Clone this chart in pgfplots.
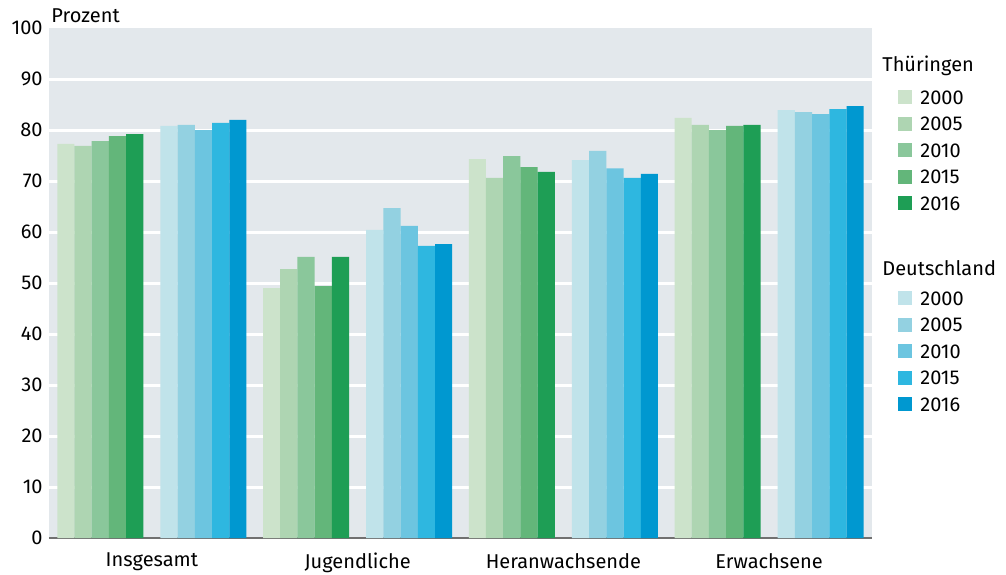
\documentclass[border=0pt]{standalone}
\usepackage{fontspec}
\setmainfont{Fira Sans}
\usepackage{pgfplots}
\pgfplotsset{compat=1.18}

\definecolor{bg}{HTML}{E3E8EC}
\definecolor{axgray}{HTML}{707070}
\definecolor{tA}{HTML}{CCE3CB}
\definecolor{tB}{HTML}{AED5B2}
\definecolor{tC}{HTML}{8AC79B}
\definecolor{tD}{HTML}{63B67A}
\definecolor{tE}{HTML}{1E9E55}
\definecolor{dA}{HTML}{C0E3EA}
\definecolor{dB}{HTML}{93D1E1}
\definecolor{dC}{HTML}{6CC5E0}
\definecolor{dD}{HTML}{2EB7E0}
\definecolor{dE}{HTML}{0098D0}

\newcommand{\ttl}[2]{\hspace*{-19pt}\raisebox{#1}[0pt][0pt]{#2}}

\pgfplotsset{
  base/.style={
    scale only axis,
    width=411.5pt, height=255pt,
    font=\fontsize{10}{12}\selectfont,
    xmin=-0.5, xmax=3.5,
    ymin=0, ymax=100,
    legend style={anchor=north west, draw=none, fill=none,
      inner sep=0pt, row sep=6.25pt, column sep=0pt,
      nodes={inner xsep=4pt, inner ysep=0pt, text height=7pt, text depth=0pt},
      font=\fontsize{10}{12}\selectfont},
    legend cell align=left,
    legend image code/.code={\fill[##1] (0pt,-3.5pt) rectangle (7pt,3.5pt);},
  },
  bars/.style={ybar, bar width=0.0836, bar shift=#1, draw=none},
}

\begin{document}
\begin{tikzpicture}
% groups: Insgesamt, Jugendliche, Heranwachsende, Erwachsene
\begin{axis}[
  base,
  clip=false,
  xtick={0,1,2,3},
  xticklabels={Insgesamt, Jugendliche, Heranwachsende, Erwachsene},
  ytick={0,10,...,100},
  extra y ticks={10,20,...,90},
  extra y tick labels={},
  extra y tick style={grid=major},
  major grid style={white, line width=1.5pt},
  major tick length=0pt,
  tick style={draw=none},
  axis x line=bottom,
  axis y line=left,
  y axis line style={draw=none},
  x axis line style={-, draw=axgray, line width=1pt},
  axis background/.style={fill=bg},
  /pgf/number format/assume math mode=true,
  yticklabel style={inner xsep=3pt},
  xticklabel style={yshift=-4pt},
  legend style={at={(rel axis cs:1,1)}, xshift=13pt, yshift=-17.75pt},
]
\addlegendimage{empty legend}
\addlegendentry{\ttl{3.25pt}{Thüringen}}
\addplot[bars=-0.418, fill=tA]
  coordinates {(0,77.3) (1,49.0) (2,74.3) (3,82.4)};
\addlegendentry{2000}
\addplot[bars=-0.3344, fill=tB]
  coordinates {(0,76.9) (1,52.7) (2,70.6) (3,81.0)};
\addlegendentry{2005}
\addplot[bars=-0.2508, fill=tC]
  coordinates {(0,77.8) (1,55.1) (2,74.9) (3,80.0)};
\addlegendentry{2010}
\addplot[bars=-0.1672, fill=tD]
  coordinates {(0,78.8) (1,49.4) (2,72.7) (3,80.8)};
\addlegendentry{2015}
\addplot[bars=-0.0836, fill=tE]
  coordinates {(0,79.2) (1,55.1) (2,71.8) (3,81.0)};
\addlegendentry{2016}

\node[anchor=base west, inner sep=0pt, xshift=1pt, yshift=3pt] at (rel axis cs:0,1) {Prozent};
\end{axis}

\begin{axis}[
  base,
  hide axis,
  legend style={at={(rel axis cs:1,1)}, xshift=13pt, yshift=-118.25pt},
]
\addlegendimage{empty legend}
\addlegendentry{\ttl{1.75pt}{Deutschland}}
\addplot[bars=0.0836, fill=dA]
  coordinates {(0,80.8) (1,60.4) (2,74.1) (3,83.9)};
\addlegendentry{2000}
\addplot[bars=0.1672, fill=dB]
  coordinates {(0,81.0) (1,64.7) (2,75.9) (3,83.5)};
\addlegendentry{2005}
\addplot[bars=0.2508, fill=dC]
  coordinates {(0,80.0) (1,61.2) (2,72.5) (3,83.1)};
\addlegendentry{2010}
\addplot[bars=0.3344, fill=dD]
  coordinates {(0,81.4) (1,57.3) (2,70.6) (3,84.1)};
\addlegendentry{2015}
\addplot[bars=0.418, fill=dE]
  coordinates {(0,82.0) (1,57.6) (2,71.4) (3,84.7)};
\addlegendentry{2016}
\end{axis}
\pgfresetboundingbox
\path ([shift={(-24.5pt,-18pt)}]current axis.south west) rectangle ([shift={(67pt,14pt)}]current axis.north east);
\end{tikzpicture}
\end{document}
